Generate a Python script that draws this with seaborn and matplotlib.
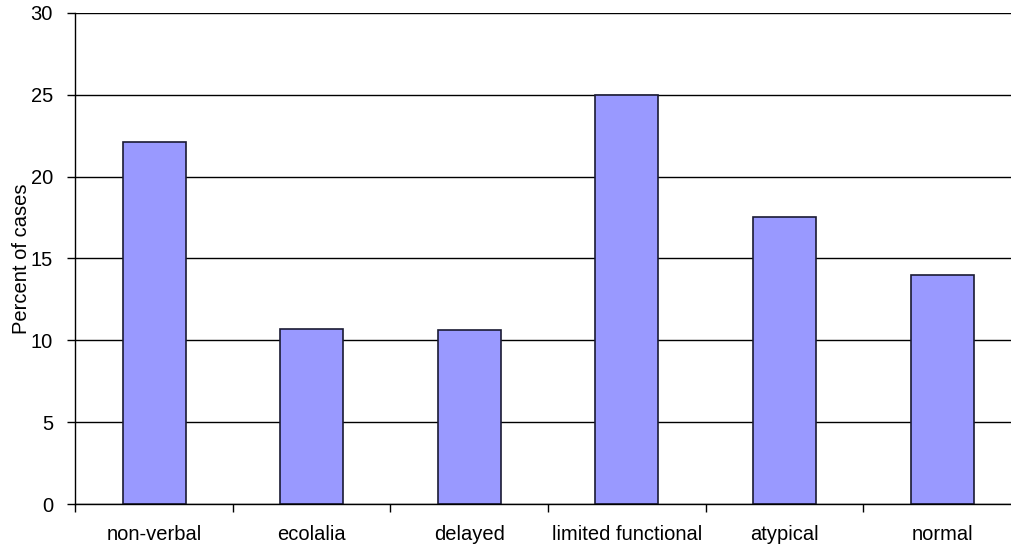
import matplotlib
matplotlib.use("Agg")
import matplotlib.pyplot as plt
import seaborn as sns
import pandas as pd
import numpy as np

categories = ["non-verbal", "ecolalia", "delayed", "limited functional", "atypical", "normal"]
percent = [22.1, 10.7, 10.63, 25.0, 17.55, 14.0]
y_ticks = [0, 5, 10, 15, 20, 25, 30]

sns.set_theme(style="white")
plt.rcParams["font.family"] = ["Liberation Sans", "DejaVu Sans"]

df = pd.DataFrame({"category": categories, "percent": percent})

fig = plt.figure(figsize=(10.12, 5.48), dpi=100)
ax = fig.add_axes([75.3 / 1012, (548 - 504.3) / 548, 945.6 / 1012, 491.6 / 548])

ax.set_axisbelow(True)
ax.yaxis.grid(True, color="black", linewidth=1.0)
ax.xaxis.grid(False)

sns.barplot(data=df, x="category", y="percent", order=categories,
            color="#9999FF", saturation=1, width=0.4,
            edgecolor="#1a1a33", linewidth=1.2, ax=ax)

ax.set_xlim(-0.5, len(categories) - 0.5)
ax.set_ylim(0, 30)
ax.set_yticks(y_ticks)
ax.set_yticklabels([str(v) for v in y_ticks], fontsize=14.5, color="black")

# category boundaries carry the ticks; labels sit at bar centres
ax.set_xticks(np.arange(-0.5, len(categories) + 0.5, 1.0))
ax.set_xticklabels([])
ax.set_xticks(np.arange(len(categories)), minor=True)
ax.set_xticklabels(categories, minor=True, fontsize=14.5, color="black")
ax.tick_params(axis="x", which="major", direction="out", length=6, width=1, color="black", bottom=True)
ax.tick_params(axis="x", which="minor", length=0, pad=15)
ax.tick_params(axis="y", direction="out", length=6, width=1, color="black", pad=10, left=True)

ax.set_xlabel("")
ax.set_ylabel("Percent of cases", fontsize=14.5, color="black", labelpad=0)

for side in ["top", "right"]:
    ax.spines[side].set_visible(False)
for side in ["left", "bottom"]:
    ax.spines[side].set_color("black")
    ax.spines[side].set_linewidth(1.0)

fig.savefig("out.png", dpi=100)
